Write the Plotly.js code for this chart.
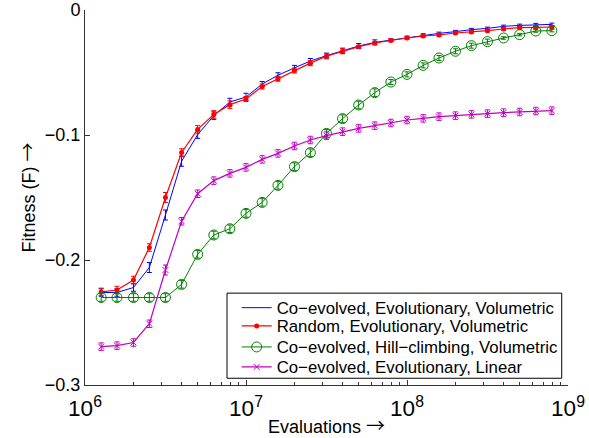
<!DOCTYPE html>
<html>
<head>
<meta charset="utf-8">
<script src="https://cdn.plot.ly/plotly-3.0.1.min.js"></script>
<style>html,body{margin:0;padding:0;background:#fff;}#chart{width:589px;height:438px;}</style>
</head>
<body>
<div id="chart"></div>
<script>
var evaluations = [1.26e6, 1.58e6, 2.00e6, 2.51e6, 3.16e6, 3.98e6, 5.01e6, 6.31e6, 7.94e6,
  1.00e7, 1.26e7, 1.58e7, 2.00e7, 2.51e7, 3.16e7, 3.98e7, 5.01e7, 6.31e7, 7.94e7,
  1.00e8, 1.26e8, 1.58e8, 2.00e8, 2.51e8, 3.16e8, 3.98e8, 5.01e8, 6.31e8, 7.94e8];

var coEvoVol = [-0.226, -0.226, -0.222, -0.206, -0.164, -0.121, -0.0997, -0.0845, -0.0736,
  -0.0696, -0.0592, -0.0522, -0.0463, -0.0408, -0.0365, -0.0325, -0.0288, -0.0259, -0.0240,
  -0.0219, -0.0200, -0.0187, -0.0173, -0.0157, -0.0147, -0.0131, -0.0123, -0.0117, -0.0115];
var coEvoVolErr = [0.003, 0.003, 0.003, 0.004, 0.004, 0.004, 0.003, 0.003, 0.003,
  0.003, 0.002, 0.002, 0.002, 0.002, 0.002, 0.002, 0.002, 0.002, 0.001,
  0.001, 0.001, 0.001, 0.001, 0.001, 0.001, 0.001, 0.001, 0.001, 0.001];

var randEvoVol = [-0.2255, -0.224, -0.216, -0.190, -0.150, -0.114, -0.0955, -0.0835, -0.0757,
  -0.0712, -0.0612, -0.0550, -0.0484, -0.0425, -0.0370, -0.0330, -0.0293, -0.0264, -0.0243,
  -0.0224, -0.0208, -0.0200, -0.0184, -0.0176, -0.0165, -0.0152, -0.0141, -0.0139, -0.0136];
var randEvoVolErr = [0.003, 0.003, 0.003, 0.003, 0.004, 0.003, 0.003, 0.003, 0.003,
  0.002, 0.002, 0.002, 0.002, 0.002, 0.002, 0.002, 0.001, 0.001, 0.001,
  0.001, 0.001, 0.001, 0.001, 0.001, 0.001, 0.001, 0.001, 0.001, 0.001];

var coHillVol = [-0.230, -0.230, -0.230, -0.230, -0.230, -0.2195, -0.1955, -0.180, -0.175,
  -0.1627, -0.1539, -0.1403, -0.1253, -0.1141, -0.0987, -0.0869, -0.0760, -0.0661, -0.0576,
  -0.0515, -0.0443, -0.0384, -0.0330, -0.0285, -0.0253, -0.0224, -0.0197, -0.0168, -0.0165];
var coHillVolErr = [0.003, 0.003, 0.003, 0.003, 0.003, 0.003, 0.003, 0.003, 0.003,
  0.003, 0.003, 0.003, 0.003, 0.003, 0.003, 0.003, 0.003, 0.003, 0.002,
  0.002, 0.002, 0.002, 0.002, 0.002, 0.002, 0.001, 0.001, 0.001, 0.001];

var coEvoLin = [-0.2693, -0.2685, -0.2660, -0.2510, -0.2080, -0.1690, -0.1470, -0.1365, -0.1307,
  -0.1259, -0.1195, -0.1147, -0.1088, -0.1040, -0.1005, -0.0973, -0.0947, -0.0925, -0.0904,
  -0.0880, -0.0867, -0.0853, -0.0845, -0.0835, -0.0829, -0.0821, -0.0816, -0.0808, -0.0805];
var coEvoLinErr = [0.003, 0.003, 0.003, 0.003, 0.004, 0.003, 0.003, 0.003, 0.003,
  0.003, 0.003, 0.003, 0.003, 0.003, 0.003, 0.003, 0.003, 0.003, 0.003,
  0.003, 0.003, 0.003, 0.003, 0.003, 0.003, 0.003, 0.003, 0.003, 0.003];

var seriesNames = ['Co\u2212evolved, Evolutionary, Volumetric', 'Random, Evolutionary, Volumetric',
  'Co\u2212evolved, Hill\u2212climbing, Volumetric', 'Co\u2212evolved, Evolutionary, Linear'];

var FONT = '"Liberation Sans", Arial, Helvetica, sans-serif';
var ARROW = '<span style="font-family:Noto Sans CJK SC;font-size:19px">\u2192</span>';

function err(arr, color) {
  return {type: 'data', array: arr, visible: true, color: color, thickness: 1, width: 2.5};
}

var traces = [
  {x: evaluations, y: coEvoVol, name: seriesNames[0], type: 'scatter', mode: 'lines', legend: 'legend',
   line: {color: '#0000ff', width: 1}, error_y: err(coEvoVolErr, '#0000ff')},
  {x: evaluations, y: randEvoVol, name: seriesNames[1], type: 'scatter', mode: 'lines+markers', legend: 'legend2',
   line: {color: '#ff0000', width: 1.2}, marker: {symbol: 'circle', size: 5, color: '#ff0000'},
   error_y: err(randEvoVolErr, '#ff0000')},
  {x: evaluations, y: coHillVol, name: seriesNames[2], type: 'scatter', mode: 'lines+markers', legend: 'legend3',
   line: {color: '#008000', width: 1}, marker: {symbol: 'circle-open', size: 10, color: '#008000', line: {width: 1, color: '#008000'}},
   error_y: err(coHillVolErr, '#008000')},
  {x: evaluations, y: coEvoLin, name: seriesNames[3], type: 'scatter', mode: 'lines+markers', legend: 'legend4',
   line: {color: '#c000c0', width: 1.2}, marker: {symbol: 'x-thin-open', size: 6, color: '#c000c0', line: {width: 1, color: '#c000c0'}},
   error_y: err(coEvoLinErr, '#c000c0')}
];

function leg(y) {
  return {x: 0.314, y: y, xanchor: 'left', yanchor: 'middle', borderwidth: 0,
    bgcolor: 'rgba(0,0,0,0)', font: {family: FONT, size: 16.8, color: '#000'}};
}

var layout = {
  width: 589, height: 438,
  margin: {l: 85, r: 21, t: 10, b: 53},
  paper_bgcolor: '#fff', plot_bgcolor: '#fff',
  font: {family: FONT, size: 17, color: '#000'},
  showlegend: true,
  legend: leg(0.206),
  legend2: leg(0.1573),
  legend3: leg(0.1013),
  legend4: leg(0.048),
  shapes: [
    {type: 'rect', xref: 'paper', yref: 'paper', x0: 0.294, x1: 0.987, y0: 0.018, y1: 0.245,
     line: {color: '#000', width: 1}, fillcolor: '#fff', layer: 'above'}
  ],
  xaxis: {
    type: 'log', range: [6, 9], dtick: 1, exponentformat: 'power',
    showline: true, linecolor: '#333', linewidth: 1, mirror: false,
    ticks: 'inside', ticklen: 5, tickcolor: '#333', showgrid: false, zeroline: false,
    ticklabelstandoff: 4,
    tickfont: {family: FONT, size: 18, color: '#000'},
    minor: {dtick: 'D1', ticks: 'inside', ticklen: 3, tickcolor: '#333', showgrid: false},
    title: {text: 'Evaluations ' + ARROW, font: {family: FONT, size: 18, color: '#000'}, standoff: 5}
  },
  yaxis: {
    range: [-0.3, 0], tickvals: [-0.3, -0.2, -0.1, 0], ticktext: ['\u22120.3', '\u22120.2', '\u22120.1', '0'],
    showline: true, linecolor: '#333', linewidth: 1, mirror: false,
    ticks: 'inside', ticklen: 5, tickcolor: '#333', showgrid: false, zeroline: false,
    tickfont: {family: FONT, size: 18, color: '#000'},
    title: {text: 'Fitness (F) ' + ARROW, font: {family: FONT, size: 18, color: '#000'}, standoff: 4}
  }
};

Plotly.newPlot('chart', traces, layout, {displayModeBar: false, staticPlot: true});
</script>
</body>
</html>
